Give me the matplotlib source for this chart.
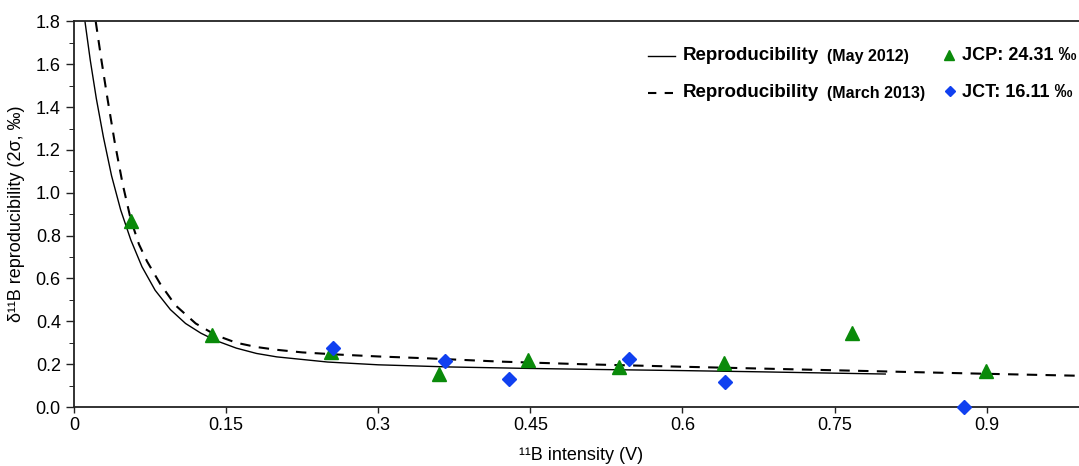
import numpy as np
import matplotlib
matplotlib.use('Agg')
import matplotlib.pyplot as plt

plt.rcParams['font.family'] = ['Liberation Sans', 'DejaVu Sans']

# Reproducibility curves
may_x = [0.0108, 0.016, 0.022, 0.029, 0.037, 0.046, 0.056, 0.067, 0.08, 0.095,
         0.11, 0.125, 0.14, 0.16, 0.18, 0.2, 0.25, 0.3, 0.37, 0.45,
         0.52, 0.6, 0.68, 0.75, 0.8]
may_y = [1.80, 1.62, 1.44, 1.26, 1.08, 0.92, 0.78, 0.655, 0.545, 0.455,
         0.39, 0.345, 0.31, 0.275, 0.25, 0.234, 0.21, 0.197, 0.187, 0.18,
         0.175, 0.17, 0.164, 0.158, 0.154]

march_x = [0.0214, 0.027, 0.033, 0.04, 0.048, 0.056, 0.064, 0.072, 0.085, 0.1,
           0.12, 0.14, 0.16, 0.18, 0.2, 0.225, 0.26, 0.3, 0.35, 0.42,
           0.5, 0.6, 0.7, 0.8, 0.9, 1.0]
march_y = [1.80, 1.62, 1.44, 1.24, 1.04, 0.875, 0.76, 0.68, 0.575, 0.475,
           0.39, 0.335, 0.30, 0.28, 0.267, 0.255, 0.245, 0.236, 0.227, 0.212,
           0.20, 0.188, 0.177, 0.166, 0.155, 0.145]

# JCP standard (green triangles)
jcp_x = [0.0559, 0.1358, 0.253, 0.3596, 0.4474, 0.537, 0.641, 0.767, 0.899]
jcp_y = [0.87, 0.336, 0.258, 0.154, 0.219, 0.188, 0.207, 0.344, 0.17]

# JCT standard (blue diamonds)
jct_x = [0.255, 0.366, 0.4287, 0.5477, 0.6417, 0.878]
jct_y = [0.274, 0.213, 0.132, 0.224, 0.117, 0.0]

xticks = [0, 0.15, 0.3, 0.45, 0.6, 0.75, 0.9]
xtick_labels = ['0', '0.15', '0.3', '0.45', '0.6', '0.75', '0.9']

fig = plt.figure(figsize=(10.79, 4.66), dpi=100)
ax = fig.add_axes([0.0686, 0.1266, 0.9398, 0.8273])

ax.plot(may_x, may_y, color='black', lw=1.0, zorder=2)
ax.plot(march_x, march_y, color='black', lw=1.5, dashes=(5, 4), zorder=2)
ax.plot(jcp_x, jcp_y, linestyle='none', marker='^', color='#0a8a0a', markersize=10,
        zorder=3, clip_on=False)
ax.plot(jct_x, jct_y, linestyle='none', marker='D', color='#1040f0', markersize=7,
        zorder=4, clip_on=False)

ax.set_xlim(0, 1.0)
ax.set_ylim(0, 1.8)
ax.set_xticks(xticks)
ax.set_xticklabels(xtick_labels)
ax.set_yticks(np.arange(0, 1.81, 0.2))
ax.set_yticklabels(['%.1f' % v for v in np.arange(0, 1.81, 0.2)])
ax.set_yticks(np.arange(0.1, 1.8, 0.2), minor=True)
ax.tick_params(axis='both', labelsize=13, direction='out', color='#222222', width=1)
ax.tick_params(axis='y', which='major', length=6)
ax.tick_params(axis='y', which='minor', length=3.5)
ax.tick_params(axis='x', length=4)

for s in ['left', 'bottom', 'top']:
    ax.spines[s].set_color('#222222')
    ax.spines[s].set_linewidth(1.3)
ax.spines['right'].set_visible(False)

ax.set_xlabel('¹¹B intensity (V)', fontsize=13, labelpad=9)
ax.set_ylabel('δ¹¹B reproducibility (2σ, ‰)', fontsize=13, labelpad=8)

# hand-made legend
tr = ax.transAxes
def fx(px):
    return (px - 74) / 1014.0
def fy(py):
    return (407 - py) / 385.5

r1, r2 = 56, 93
ax.plot([fx(648), fx(675)], [fy(r1), fy(r1)], color='black', lw=1.0, transform=tr, clip_on=False)
ax.plot([fx(648), fx(677)], [fy(r2), fy(r2)], color='black', lw=1.5, dashes=(4, 4),
        transform=tr, clip_on=False)
ax.text(fx(683), fy(r1), 'Reproducibility', fontsize=13.5, fontweight='bold', va='center', transform=tr)
ax.text(fx(827), fy(r1 + 1), '(May 2012)', fontsize=11.5, fontweight='bold', va='center', transform=tr)
ax.text(fx(683), fy(r2), 'Reproducibility', fontsize=13.5, fontweight='bold', va='center', transform=tr)
ax.text(fx(827), fy(r2 + 1), '(March 2013)', fontsize=11.5, fontweight='bold', va='center', transform=tr)
ax.plot([fx(949)], [fy(r1 - 1)], marker='^', color='#0a8a0a', markersize=7, transform=tr, clip_on=False)
ax.plot([fx(950)], [fy(r2 - 2)], marker='D', color='#1040f0', markersize=5.5, transform=tr, clip_on=False)
ax.text(fx(962), fy(r1), 'JCP: 24.31 ‰', fontsize=13, fontweight='bold', va='center', transform=tr)
ax.text(fx(962), fy(r2), 'JCT: 16.11 ‰', fontsize=13, fontweight='bold', va='center', transform=tr)

fig.savefig('out.png', dpi=100)
